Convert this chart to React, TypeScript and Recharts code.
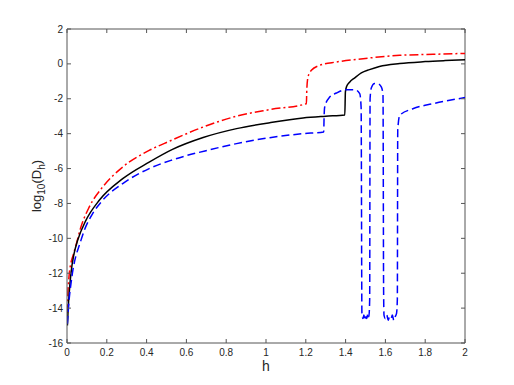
import React from 'react';
import { LineChart, Line, XAxis, YAxis, ReferenceLine, Customized } from 'recharts';

// h values and log10(D_h), one pair of arrays per curve
const redH = [0.001, 0.003, 0.01, 0.02, 0.03, 0.045, 0.07, 0.112, 0.179, 0.28, 0.413, 0.517, 0.684, 0.852, 1.019, 1.203, 1.205, 1.211, 1.228, 1.27, 1.354, 1.488, 1.672, 1.84, 2.0];
const redD = [-14.3, -13.5, -12.2, -11.4, -11.0, -10.4, -9.35, -8.2, -7.06, -5.91, -4.96, -4.42, -3.62, -3.0, -2.62, -2.28, -1.5, -0.75, -0.37, -0.08, 0.11, 0.3, 0.49, 0.55, 0.6];

const blackH = [0.002, 0.006, 0.012, 0.02, 0.035, 0.054, 0.095, 0.162, 0.28, 0.413, 0.53, 0.684, 0.852, 1.019, 1.186, 1.3, 1.396, 1.399, 1.405, 1.42, 1.446, 1.479, 1.52, 1.57, 1.672, 1.8, 1.9, 2.0];
const blackD = [-15.0, -14.0, -13.0, -12.0, -10.9, -10.1, -8.97, -7.82, -6.58, -5.63, -4.9, -4.22, -3.71, -3.37, -3.1, -3.0, -2.93, -1.6, -1.3, -1.05, -0.8, -0.52, -0.33, -0.15, 0.02, 0.13, 0.19, 0.24];

const blueH = [0.002, 0.01, 0.02, 0.03, 0.045, 0.062, 0.087, 0.129, 0.179, 0.28, 0.413, 0.53, 0.718, 0.852, 1.019, 1.186, 1.29, 1.292, 1.295, 1.32, 1.354, 1.404, 1.446, 1.471, 1.478, 1.482, 1.487, 1.492, 1.497, 1.502, 1.507, 1.512, 1.517, 1.521, 1.523, 1.53, 1.546, 1.565, 1.58, 1.588, 1.591, 1.593, 1.6, 1.607, 1.614, 1.621, 1.628, 1.635, 1.642, 1.649, 1.656, 1.66, 1.662, 1.672, 1.738, 1.84, 2.0];
const blueD = [-14.9, -13.6, -12.6, -11.8, -11.0, -10.4, -9.54, -8.58, -7.82, -6.86, -6.0, -5.5, -4.92, -4.57, -4.23, -4.0, -3.9, -3.0, -2.47, -1.9, -1.67, -1.48, -1.48, -1.7, -2.5, -14.3, -14.6, -14.4, -14.7, -14.5, -14.6, -14.3, -14.5, -13.5, -2.0, -1.35, -1.13, -1.15, -1.33, -1.8, -13.0, -14.4, -14.6, -14.4, -14.7, -14.5, -14.6, -14.4, -14.7, -14.5, -14.3, -13.5, -3.8, -2.95, -2.57, -2.28, -1.93];

const xTicks = [0, 0.2, 0.4, 0.6, 0.8, 1, 1.2, 1.4, 1.6, 1.8, 2];
const yTicks = [-16, -14, -12, -10, -8, -6, -4, -2, 0, 2];

const toRows = (hs: number[], ds: number[]) => hs.map((h, i) => ({ h, d: ds[i] }));

const redData = toRows(redH, redD);
const blackData = toRows(blackH, blackD);
const blueData = toRows(blueH, blueD);

const AXIS = '#555';
const TEXT = '#262626';
const FONT = '"Liberation Sans", Arial, sans-serif';

// plot box (axes frame)
const BOX = { left: 67, top: 29, right: 465, bottom: 343 };

const BottomTick = (props: any) => {
  const { x, y, payload } = props;
  return (
    <g>
      <path d={`M${x},${y}V${y - 4}M${x},${BOX.top}V${BOX.top + 4}`} stroke={AXIS} strokeWidth={1} fill="none" />
      <text x={x} y={y + 13} textAnchor="middle" fontSize={10} fill={TEXT} fontFamily={FONT}>
        {payload.value}
      </text>
    </g>
  );
};

const LeftTick = (props: any) => {
  const { x, y, payload } = props;
  return (
    <g>
      <path d={`M${x},${y}H${x + 4}M${BOX.right},${y}H${BOX.right - 4}`} stroke={AXIS} strokeWidth={1} fill="none" />
      <text x={x - 4} y={y + 3.5} textAnchor="end" fontSize={10} fill={TEXT} fontFamily={FONT}>
        {payload.value}
      </text>
    </g>
  );
};

const Titles = () => (
  <g fontFamily={FONT} fill={TEXT}>
    <text x={266} y={371} textAnchor="middle" fontSize={14}>h</text>
    <text x={41} y={186} transform="rotate(-90, 41, 186)" textAnchor="middle" fontSize={13}>
      <tspan>log</tspan>
      <tspan fontSize={10} dy={4}>10</tspan>
      <tspan dy={-4}>(D</tspan>
      <tspan fontSize={10} dy={4}>h</tspan>
      <tspan dy={-4}>)</tspan>
    </text>
  </g>
);

export default function App() {
  return (
    <div style={{ width: 514, height: 385, background: '#fff' }}>
      <style>{'body{margin:0}'}</style>
      <LineChart width={514} height={385} margin={{ top: BOX.top, right: 514 - BOX.right, bottom: 0, left: 0 }}>
        <XAxis
          dataKey="h"
          type="number"
          domain={[0, 2]}
          ticks={xTicks}
          allowDataOverflow
          height={385 - BOX.bottom}
          tickSize={0}
          tickMargin={0}
          stroke={AXIS}
          tick={<BottomTick />}
          interval={0}
        />
        <YAxis
          dataKey="d"
          type="number"
          domain={[-16, 2]}
          ticks={yTicks}
          allowDataOverflow
          width={BOX.left}
          tickSize={0}
          tickMargin={0}
          stroke={AXIS}
          tick={<LeftTick />}
          interval={0}
        />
        <ReferenceLine y={2} stroke={AXIS} strokeWidth={1} ifOverflow="visible" />
        <ReferenceLine x={2} stroke={AXIS} strokeWidth={1} ifOverflow="visible" />
        <Customized component={Titles} />
        <Line data={redData} dataKey="d" type="monotone" stroke="#ff0000" strokeWidth={1.5} strokeDasharray="9 3 2 3" dot={false} isAnimationActive={false} />
        <Line data={blackData} dataKey="d" type="monotone" stroke="#000000" strokeWidth={1.5} dot={false} isAnimationActive={false} />
        <Line data={blueData} dataKey="d" type="monotone" stroke="#0000ff" strokeWidth={1.5} strokeDasharray="8 4" dot={false} isAnimationActive={false} />
      </LineChart>
    </div>
  );
}
